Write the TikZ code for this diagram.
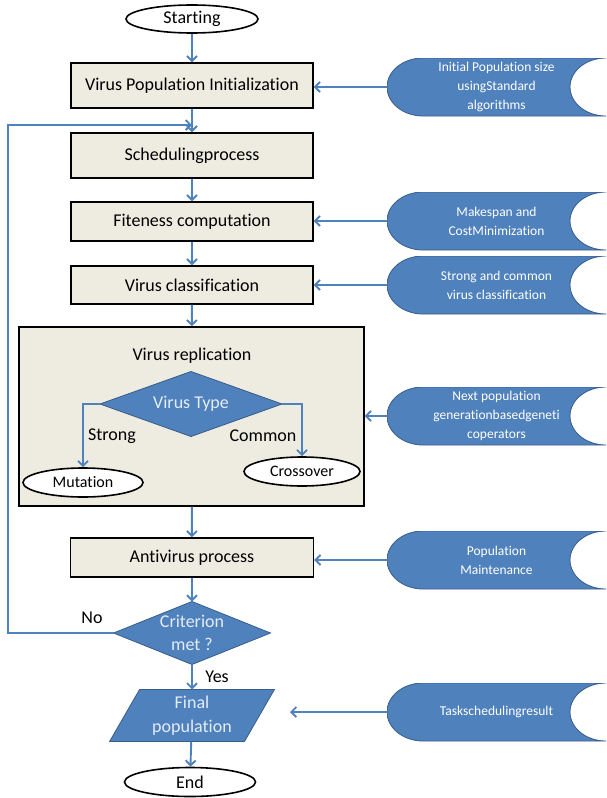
\documentclass[tikz,border=0pt]{standalone}
\usepackage{fontspec}
\setmainfont{Carlito}[Ligatures=NoCommon]
\usetikzlibrary{positioning}
\usetikzlibrary{calc}
\usetikzlibrary{arrows.meta,shapes.geometric}

\definecolor{lineblue}{RGB}{79,129,189}
\definecolor{fillblue}{RGB}{79,129,189}
\definecolor{edgeblue}{RGB}{56,93,138}
\definecolor{boxbeige}{RGB}{238,236,225}
\definecolor{paleblue}{RGB}{228,236,247}

\tikzset{
procbox/.style={draw=black,line width=1.4pt,fill=boxbeige,minimum width=242,minimum height=42,inner sep=0pt,font=\fontsize{18}{21}\selectfont},
termin/.style={ellipse,draw=black,line width=1.6pt,fill=white,inner sep=0pt,font=\fontsize{18}{21}\selectfont},
decide/.style={diamond,draw=edgeblue,line width=0.8pt,fill=fillblue,inner sep=0pt,outer sep=0pt},
inout/.style={trapezium,trapezium left angle=60,trapezium right angle=120,draw=edgeblue,line width=0.8pt,fill=fillblue,inner sep=0pt,outer sep=0pt,text=paleblue,align=center,font=\fontsize{18}{24}\selectfont},
storebox/.style={minimum width=219,minimum height=58,inner sep=0pt,outer sep=0pt,align=center,text=white,font=\fontsize{13.5}{19}\selectfont,
 path picture={
 \fill[fillblue,draw=edgeblue,line width=0.8pt]
 ([xshift=36pt]path picture bounding box.north west)
 -- (path picture bounding box.north east)
 arc[start angle=90,end angle=270,x radius=36pt,y radius=29pt]
 -- ([xshift=36pt]path picture bounding box.south west)
 arc[start angle=270,end angle=90,x radius=36pt,y radius=29pt]
 -- cycle;}},
flow/.style={draw=lineblue,line width=1.9pt,-{Straight Barb[length=5pt,width=10pt]}},
lbl/.style={font=\fontsize{18}{21}\selectfont}
}

\begin{document}
\begin{tikzpicture}[x=1pt,y=-1pt]
\useasboundingbox (0,0) rectangle (606,798);

% main column
\node[termin,minimum width=132,minimum height=28](start) at (192,19){Starting};
\node[procbox,minimum height=45](init) at (192,85.5){Virus Population Initialization};
\node[procbox,minimum height=45](sched) at (192,155.5){Schedulingprocess};
\node[procbox,minimum height=39](fit) at (192,221.5){Fiteness computation};
\node[procbox,minimum height=38](cls) at (192,285){Virus classification};
\node[procbox,minimum width=345,minimum height=179](repl) at (191.5,416.5){};
\node[lbl](repltitle) at (192,356){Virus replication};
\node[decide,minimum width=182,minimum height=65,
 label={[text=paleblue,font=\fontsize{18}{21}\selectfont]center:Virus Type}](vtype) at (191,404){};
\node[termin,minimum width=120,minimum height=29,font=\fontsize{16}{19}\selectfont](mut) at (83,482.5){Mutation};
\node[termin,minimum width=116,minimum height=29,font=\fontsize{16}{19}\selectfont](cross) at (302,471.5){Crossover};
\node[lbl](strong) at (112,436){Strong};
\node[lbl](common) at (263,436){Common};
\node[procbox,minimum width=243,minimum height=39](anti) at (192,557.5){Antivirus process};
\node[decide,minimum width=157,minimum height=63,
 label={[text=paleblue,align=center,font=\fontsize{18}{23}\selectfont]center:Criterion\\met ?}](crit) at (192,633){};
\node[lbl](no) at (92,618){No};
\node[lbl](yes) at (217,677){Yes};
\node[inout,minimum width=165,minimum height=45](final) at (192,715.5){Final\\population};
\node[termin,minimum width=131,minimum height=29](endn) at (190,782){End};

% inputs on the right
\node[storebox](sInit) at (496.5,87){Initial Population size\\usingStandard\\algorithms};
\node[storebox](sCost) at (496.5,221){Makespan and\\CostMinimization};
\node[storebox](sClass) at (496.5,285){Strong and common\\virus classification};
\node[storebox](sGen) at (496.5,416){Next population\\generationbasedgeneti\\coperators};
\node[storebox](sMaint) at (496.5,560){Population\\Maintenance};
\node[storebox](sTask) at (496.5,712){Taskschedulingresult};

\coordinate (join) at (192,125);
\coordinate (loopc) at (8,125);
\coordinate (taskend) at (290,712);

\path
(start) edge[flow] (init)
(init) edge[flow] (sched)
(sched) edge[flow] (fit)
(fit) edge[flow] (cls)
(cls) edge[flow] (repl)
(repl) edge[flow] (anti)
(anti) edge[flow] (crit)
(crit) edge[flow] (final)
(final) edge[flow] (endn);

\draw[flow] (vtype.west) -| (mut.north);
\draw[flow] (vtype.east) -| (cross.north);
\draw[flow] (crit.west) -| (loopc) -- (join);

\draw[flow] (sInit.west) -- (sInit.west -| init.east);
\draw[flow] (sCost.west) -- (sCost.west -| fit.east);
\draw[flow] (sClass.west) -- (sClass.west -| cls.east);
\draw[flow] (sGen.west) -- (sGen.west -| repl.east);
\draw[flow] (sMaint.west) -- (sMaint.west -| anti.east);
\draw[flow] (sTask.west) -- (taskend);
\end{tikzpicture}
\end{document}
